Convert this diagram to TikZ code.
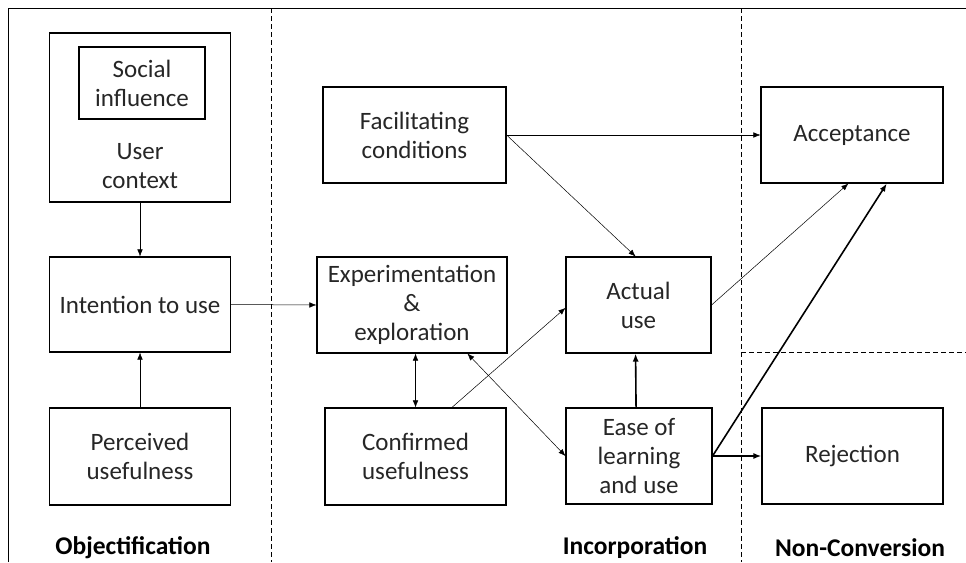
\documentclass[tikz,border=0pt]{standalone}
\usepackage{fontspec}
\setmainfont{Carlito}
\usetikzlibrary{arrows.meta,calc}
\begin{document}
\begin{tikzpicture}[x=1pt,y=-1pt,
  font=\fontsize{25}{29}\selectfont,
  box/.style={draw,line width=1.1pt,rectangle,align=center,inner sep=0pt,text=black!85},
  conn/.style={line width=0.5pt,-{Latex[length=7pt,width=5.5pt]}},
  biconn/.style={line width=0.5pt,{Latex[length=7pt,width=5.5pt]}-{Latex[length=7pt,width=5.5pt]}},
  thick conn/.style={line width=1.6pt,-{Latex[length=8pt,width=6pt]}},
  phase/.style={font=\fontsize{25.5}{29}\selectfont\bfseries},
  divider/.style={line width=0.8pt,dash pattern=on 5pt off 3pt}]
\useasboundingbox (0,0) rectangle (966,562);
% outer frame
\draw[line width=1pt] (8,562) -- (8,8) -- (966,8);
% phase dividers
\draw[divider] (271,8) -- (271,562);
\draw[divider] (741,8) -- (741,562);
\draw[divider] (741,352) -- (966,352);

% objectification
\node[box,minimum width=181pt,minimum height=169pt] (uc) at (140,117.5) {};
\node[box,minimum width=126pt,minimum height=72pt] (si) at (142,83) {Social\\influence};
\node[align=center,text=black!85] (uctext) at (140,166) {User\\context};
\node[box,minimum width=181pt,minimum height=95pt] (intent) at (140,304.5) {Intention to use};
\node[box,minimum width=181pt,minimum height=97pt] (perc) at (140,456.5) {Perceived\\usefulness};

% incorporation
\node[box,minimum width=183pt,minimum height=96pt] (fac) at (414.5,135) {Facilitating\\conditions};
\node[box,minimum width=190pt,minimum height=96pt] (exp) at (412,305) {Experimentation\\\&\\exploration};
\node[box,minimum width=181pt,minimum height=97pt] (conf) at (415.5,456.5) {Confirmed\\usefulness};
\node[box,minimum width=145pt,minimum height=96pt] (act) at (638.5,305) {Actual\\use};
\node[box,minimum width=146pt,minimum height=96pt] (ease) at (639,456) {Ease of\\learning\\and use};

% non-conversion
\node[box,minimum width=182pt,minimum height=96pt] (acc) at (852,135) {Acceptance};
\node[box,minimum width=181pt,minimum height=96pt] (rej) at (852.5,456) {Rejection};

% phase labels
\node[phase] (lobj) at (133,548) {Objectification};
\node[phase] (linc) at (635,548) {Incorporation};
\node[phase] (lnon) at (860,548) {Non-Conversion};

% connectors
\draw[conn] (uc.south) -- (intent.north);
\draw[conn] (perc.north) -- (intent.south);
\draw[conn] (intent.east) -- (exp.west);
\draw[conn] (fac.east) -- (acc.west);
\draw[conn] (fac.east) -- ($(act.north west)!0.48!(act.north east)$);
\draw[biconn] (conf.north) -- (conf.north |- exp.south);
\draw[conn] ($(conf.north west)!0.70!(conf.north east)$) -- ($(act.north west)!0.53!(act.south west)$);
\draw[biconn] ($(exp.south west)!0.79!(exp.south east)$) -- (ease.west);
\draw[thick conn] ($(ease.north west)!0.48!(ease.north east)$) -- ($(act.south west)!0.48!(act.south east)$);
\draw[conn] (act.east) -- ($(acc.south west)!0.48!(acc.south east)$);
\draw[thick conn] (ease.east) -- ($(acc.south west)!0.69!(acc.south east)$);
\draw[thick conn] (ease.east) -- (rej.west);
\end{tikzpicture}
\end{document}
